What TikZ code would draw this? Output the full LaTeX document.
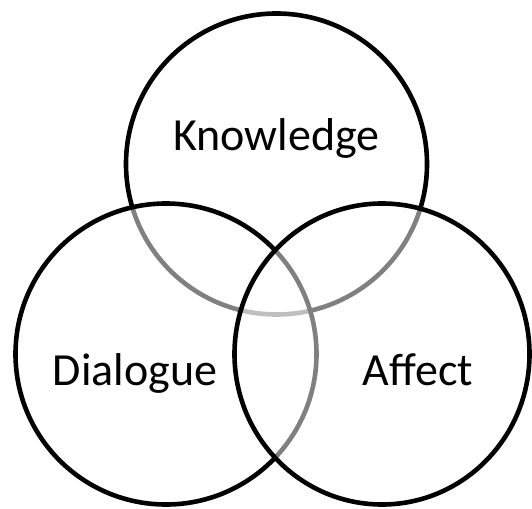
\documentclass[tikz,border=0pt]{standalone}
\usepackage{fontspec}
\usetikzlibrary{shapes.geometric}
\setmainfont{Carlito}
\begin{document}
\begin{tikzpicture}[x=1bp,y=-1bp,
  venn/.style={ellipse, draw=black, line width=4.6bp, fill=white, fill opacity=0.5, inner sep=0pt, minimum width=301bp, minimum height=301bp},
  lbl/.style={anchor=base, font=\fontsize{46bp}{50bp}\selectfont, text=black, inner sep=0pt}]
\useasboundingbox (0,0) rectangle (532,509);
\node[venn] (K) at (276.5,164) {};
\node[venn] (D) at (166,354) {};
\node[venn, minimum width=295bp] (A) at (382,354) {};
\node[lbl] (Kt) at (276.5,151) {Knowledge};
\node[lbl] (Dt) at (135,385) {Dialogue};
\node[lbl] (At) at (418,385) {Affect};
\end{tikzpicture}
\end{document}
